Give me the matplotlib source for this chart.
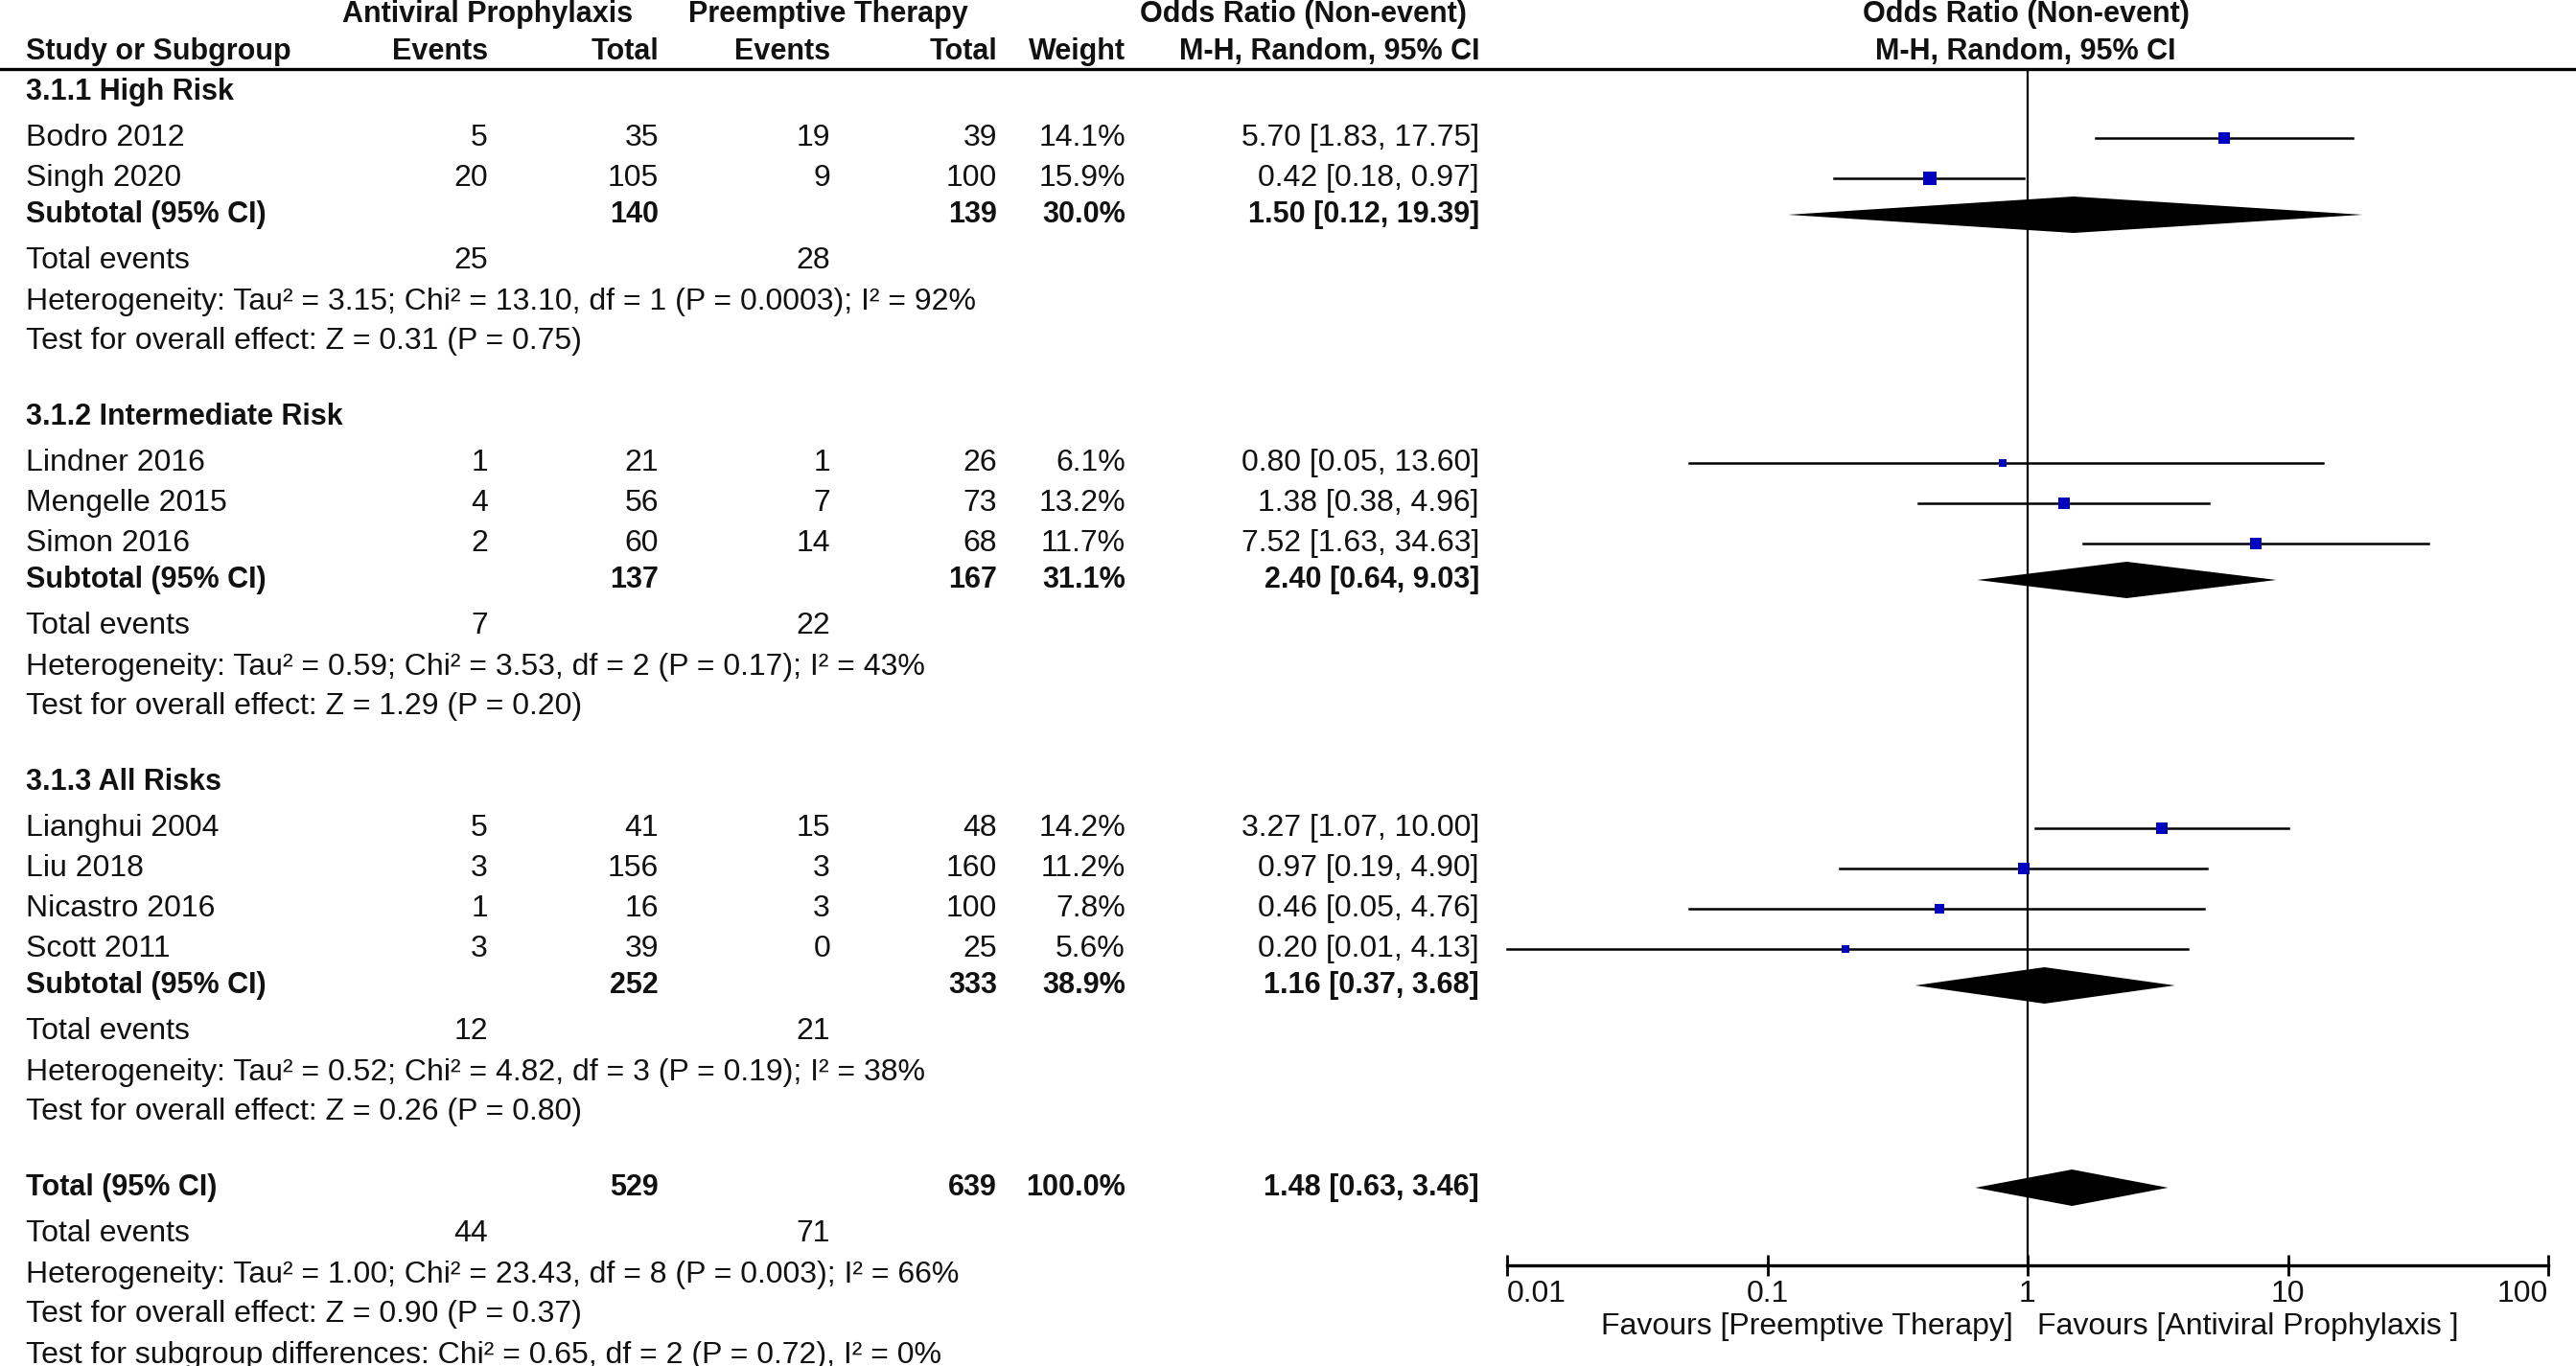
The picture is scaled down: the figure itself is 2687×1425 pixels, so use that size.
import matplotlib
matplotlib.use("Agg")
import matplotlib.pyplot as plt
import numpy as np

plt.rcParams['font.family'] = ['Liberation Sans', 'DejaVu Sans']

# ---- data ----
groups = ["3.1.1 High Risk", "3.1.2 Intermediate Risk", "3.1.3 All Risks"]

study_names = [
    ["Bodro 2012", "Singh 2020"],
    ["Lindner 2016", "Mengelle 2015", "Simon 2016"],
    ["Lianghui 2004", "Liu 2018", "Nicastro 2016", "Scott 2011"],
]
ev_pro = [[5, 20], [1, 4, 2], [5, 3, 1, 3]]
tot_pro = [[35, 105], [21, 56, 60], [41, 156, 16, 39]]
ev_pre = [[19, 9], [1, 7, 14], [15, 3, 3, 0]]
tot_pre = [[39, 100], [26, 73, 68], [48, 160, 100, 25]]
weights = [[14.1, 15.9], [6.1, 13.2, 11.7], [14.2, 11.2, 7.8, 5.6]]
odds = [[5.70, 0.42], [0.80, 1.38, 7.52], [3.27, 0.97, 0.46, 0.20]]
ci_lo = [[1.83, 0.18], [0.05, 0.38, 1.63], [1.07, 0.19, 0.05, 0.01]]
ci_hi = [[17.75, 0.97], [13.60, 4.96, 34.63], [10.00, 4.90, 4.76, 4.13]]

sub_tot_pro = [140, 137, 252]
sub_tot_pre = [139, 167, 333]
sub_weight = [30.0, 31.1, 38.9]
sub_or = [1.50, 2.40, 1.16]
sub_lo = [0.12, 0.64, 0.37]
sub_hi = [19.39, 9.03, 3.68]
sub_ev_pro = [25, 7, 12]
sub_ev_pre = [28, 22, 21]
sub_het = [
    "Heterogeneity: Tau\u00b2 = 3.15; Chi\u00b2 = 13.10, df = 1 (P = 0.0003); I\u00b2 = 92%",
    "Heterogeneity: Tau\u00b2 = 0.59; Chi\u00b2 = 3.53, df = 2 (P = 0.17); I\u00b2 = 43%",
    "Heterogeneity: Tau\u00b2 = 0.52; Chi\u00b2 = 4.82, df = 3 (P = 0.19); I\u00b2 = 38%",
]
sub_test = [
    "Test for overall effect: Z = 0.31 (P = 0.75)",
    "Test for overall effect: Z = 1.29 (P = 0.20)",
    "Test for overall effect: Z = 0.26 (P = 0.80)",
]

total_pro, total_pre, total_w = 529, 639, 100.0
total_or, total_lo, total_hi = 1.48, 0.63, 3.46
total_ev_pro, total_ev_pre = 44, 71
total_het = "Heterogeneity: Tau\u00b2 = 1.00; Chi\u00b2 = 23.43, df = 8 (P = 0.003); I\u00b2 = 66%"
total_test = "Test for overall effect: Z = 0.90 (P = 0.37)"
subgroup_test = "Test for subgroup differences: Chi\u00b2 = 0.65, df = 2 (P = 0.72), I\u00b2 = 0%"

tick_vals = [0.01, 0.1, 1, 10, 100]
tick_labels = ["0.01", "0.1", "1", "10", "100"]

# ---- layout (pixels) ----
W, H = 2687, 1425
FS = 23      # regular text
FSB = 22     # bold text
x_name = 27
x_ev1, x_tot1, x_ev2, x_tot2, x_w, x_ci = 509, 687, 866, 1040, 1174, 1543
ax_left, ax_right = 1572, 2658
ax_top, ax_bot = 72, 1320

fig = plt.figure(figsize=(W / 100, H / 100), dpi=100)
tab = fig.add_axes([0, 0, 1, 1])
tab.set_xlim(0, W)
tab.set_ylim(H, 0)
tab.axis('off')

fa = fig.add_axes([ax_left / W, 1 - ax_bot / H, (ax_right - ax_left) / W, (ax_bot - ax_top) / H])
fa.set_xscale('log')
fa.set_xlim(0.01, 100)
fa.set_ylim(ax_bot, ax_top)
fa.patch.set_alpha(0)
for s in ['top', 'left', 'right']:
    fa.spines[s].set_visible(False)
fa.spines['bottom'].set_linewidth(2.4)
fa.set_yticks([])
fa.set_xticks(tick_vals)
fa.set_xticks([], minor=True)
fa.set_xticklabels(tick_labels, fontsize=FS, color='#111111')
for lab, ha in zip(fa.get_xticklabels(), ['left', 'center', 'center', 'center', 'right']):
    lab.set_ha(ha)
fa.tick_params(axis='x', direction='inout', length=16, width=2, pad=3)
fa.axvline(1, color='black', lw=1.6)


def txt(x, y, s, ha='left', bold=False):
    tab.text(x, y, s, ha=ha, va='center', fontsize=FSB if bold else FS,
             fontweight='bold' if bold else 'normal', color='#111111')


def row(y, name, e1, t1, e2, t2, w, o, lo, hi, bold=False):
    txt(x_name, y, name, bold=bold)
    if e1 != "":
        txt(x_ev1, y, str(e1), 'right', bold)
        txt(x_ev2, y, str(e2), 'right', bold)
    txt(x_tot1, y, str(t1), 'right', bold)
    txt(x_tot2, y, str(t2), 'right', bold)
    txt(x_w, y, f"{w:.1f}%", 'right', bold)
    txt(x_ci, y, f"{o:.2f} [{lo:.2f}, {hi:.2f}]", 'right', bold)


def diamond(y, o, lo, hi, h=19):
    fa.fill([lo, o, hi, o], [y, y - h, y, y + h], color='black', lw=0)


# header
txt(509, 15, "Antiviral Prophylaxis", 'center', True)
txt(864, 15, "Preemptive Therapy", 'center', True)
txt(1359, 15, "Odds Ratio (Non-event)", 'center', True)
txt(2113, 15, "Odds Ratio (Non-event)", 'center', True)
txt(x_name, 54, "Study or Subgroup", bold=True)
txt(x_ev1, 54, "Events", 'right', True)
txt(x_tot1, 54, "Total", 'right', True)
txt(x_ev2, 54, "Events", 'right', True)
txt(x_tot2, 54, "Total", 'right', True)
txt(x_w, 54, "Weight", 'right', True)
txt(x_ci, 54, "M-H, Random, 95% CI", 'right', True)
txt(2113, 54, "M-H, Random, 95% CI", 'center', True)
tab.plot([0, W], [72, 72], color='black', lw=2.4)

y = 96
for g in range(len(groups)):
    txt(x_name, y, groups[g], bold=True)
    y += 48
    for i in range(len(study_names[g])):
        row(y, study_names[g][i], ev_pro[g][i], tot_pro[g][i], ev_pre[g][i], tot_pre[g][i],
            weights[g][i], odds[g][i], ci_lo[g][i], ci_hi[g][i])
        fa.plot([ci_lo[g][i], ci_hi[g][i]], [y, y], color='black', lw=1.8, clip_on=False)
        fa.plot(odds[g][i], y, marker='s', color='#0000bf', ms=2.4 * np.sqrt(weights[g][i]), mew=0)
        y += 42
    y -= 4
    row(y, "Subtotal (95% CI)", "", sub_tot_pro[g], "", sub_tot_pre[g], sub_weight[g],
        sub_or[g], sub_lo[g], sub_hi[g], bold=True)
    diamond(y, sub_or[g], sub_lo[g], sub_hi[g])
    y += 48
    txt(x_name, y, "Total events")
    txt(x_ev1, y, str(sub_ev_pro[g]), 'right')
    txt(x_ev2, y, str(sub_ev_pre[g]), 'right')
    y += 43
    txt(x_name, y, sub_het[g])
    y += 41
    txt(x_name, y, sub_test[g])
    y += 79

row(y, "Total (95% CI)", "", total_pro, "", total_pre, total_w, total_or, total_lo, total_hi, bold=True)
diamond(y, total_or, total_lo, total_hi)
y += 48
txt(x_name, y, "Total events")
txt(x_ev1, y, str(total_ev_pro), 'right')
txt(x_ev2, y, str(total_ev_pre), 'right')
y += 43
txt(x_name, y, total_het)
y += 41
txt(x_name, y, total_test)
y += 43
txt(x_name, y, subgroup_test)

txt(2100, 1384, "Favours [Preemptive Therapy]", 'right')
txt(2125, 1384, "Favours [Antiviral Prophylaxis ]", 'left')

fig.savefig("out.png", dpi=100)
